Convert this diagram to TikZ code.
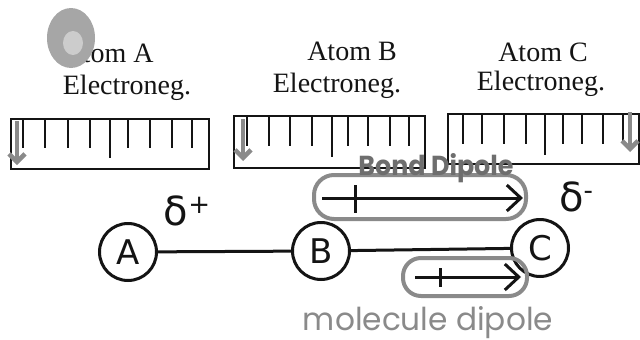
\documentclass[tikz,border=0pt]{standalone}
\usepackage{fontspec}
\setmainfont{Liberation Serif}
\newfontfamily\handfont{DejaVu Sans}
\newfontfamily\grayfont{Poppins}
\usetikzlibrary{arrows.meta}
\definecolor{pen}{HTML}{141414}
\definecolor{marker}{HTML}{8A8A8A}
\definecolor{markerdark}{HTML}{6E6E6E}
\begin{document}
\begin{tikzpicture}[x=1pt,y=-1pt,
 ruler/.style={draw=pen, line width=1.8pt, inner sep=0pt},
 tickline/.style={draw=pen, line width=1.8pt},
 lbl/.style={font=\fontsize{28}{30}\selectfont, anchor=base, inner sep=0pt, text=pen},
 atom/.style={circle, draw=pen, line width=3pt, minimum size=57pt, inner sep=0pt, font=\handfont\fontsize{34}{36}\selectfont, text=pen},
 bond/.style={draw=pen, line width=3pt},
 gmark/.style={draw=marker, line width=4pt, rounded corners=20pt, inner sep=0pt},
 garrow/.style={draw=marker, line width=4.5pt, -{Straight Barb[length=8pt,width=16pt]}},
 dip/.style={draw=pen, line width=3pt, -{Straight Barb[length=14pt,width=26pt]}},
 delta/.style={font=\handfont\fontsize{40}{42}\selectfont, text=pen, inner sep=0pt},
]
\useasboundingbox (0,0) rectangle (640,340);
\fill[white] (0,0) rectangle (640,340);

% headings
\node[lbl] (ta1) at (108,62) {Atom A};
\node[lbl] (ta2) at (127,94) {Electroneg.};
\node[lbl] (tb1) at (352,60) {Atom B};
\node[lbl] (tb2) at (337,92) {Electroneg.};
\node[lbl] (tc1) at (543,61) {Atom C};
\node[lbl] (tc2) at (541,90) {Electroneg.};

% scan blob
\fill[gray!70] (71,38) ellipse [x radius=24, y radius=30];
\fill[gray!40] (73,43) ellipse [x radius=10, y radius=12];

% rulers
\node[ruler, minimum width=198pt, minimum height=50pt, anchor=north west] (rA) at (10,118) {};
\node[ruler, minimum width=191pt, minimum height=52pt, anchor=north west] (rB) at (233,115) {};
\node[ruler, minimum width=191pt, minimum height=50pt, anchor=north west] (rC) at (447,113) {};
\foreach \x in {23,45,68,90,128,150,172,192} \draw[tickline] (\x,118) -- (\x,148);
\draw[tickline] (110,118) -- (110,158);
\foreach \x in {247,269,290,312,348,368,390,409} \draw[tickline] (\x,115) -- (\x,146);
\draw[tickline] (332,115) -- (332,157);
\foreach \x in {463,482,504,526,563,582,603,623} \draw[tickline] (\x,113) -- (\x,144);
\draw[tickline] (545,113) -- (545,155);
\draw[garrow] (17,121) -- (17,165);
\draw[garrow] (243,119) -- (243,161);
\draw[garrow] (630,112) -- (630,152);

% atoms
\node[atom] (A) at (128,252) {A};
\node[atom] (B) at (321,251) {B};
\node[atom] (C) at (540,248) {C};
\draw[bond] (A) -- (B);
\draw[bond] (B) -- (C);

\node[delta] (dplus) at (187,211) {δ\raisebox{0.3em}{\fontsize{26}{26}\selectfont +}};
\node[delta] (dminus) at (576,197) {δ\raisebox{0.3em}{\fontsize{26}{26}\selectfont -}};

% bond dipole
\node[gmark, minimum width=212pt, minimum height=44pt] (bdoval) at (420,197) {};
\coordinate (bd1) at (322,198);
\coordinate (bd2) at (523,198);
\draw[dip] (bd1) -- (bd2);
\draw[bond] (355,185) -- (355,213);
\node[anchor=base, text=markerdark, inner sep=0pt] (bdl) at (436,175) {\resizebox{155pt}{22pt}{\grayfont\bfseries Bond Dipole}};

% molecule dipole
\node[gmark, rounded corners=18pt, minimum width=124pt, minimum height=38pt] (mdoval) at (465,277) {};
\coordinate (md1) at (415,277);
\coordinate (md2) at (521,277);
\draw[dip] (md1) -- (md2);
\draw[bond] (440,268) -- (440,287);
\node[anchor=base, text=marker, inner sep=0pt] (mdl) at (428,330) {\resizebox{250pt}{24pt}{\grayfont molecule dipole}};
\end{tikzpicture}
\end{document}
